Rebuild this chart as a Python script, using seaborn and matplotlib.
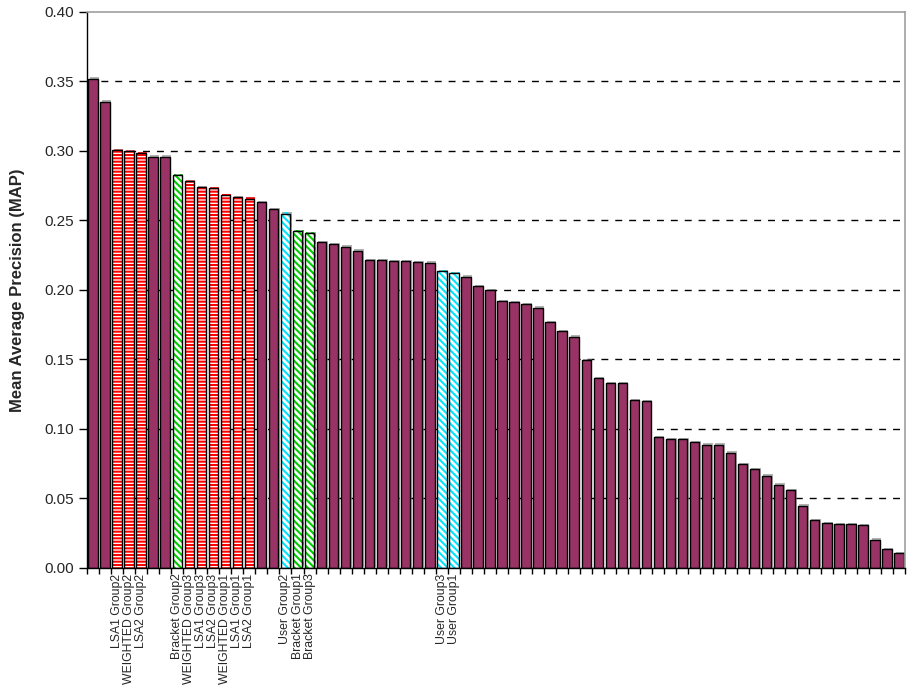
import numpy as np
import pandas as pd
import seaborn as sns
import matplotlib.pyplot as plt
import matplotlib.patheffects as pe

# MAP per run, sorted high to low
map_values = [
    0.352, 0.3355, 0.3007, 0.3000, 0.2983, 0.2959, 0.2959, 0.2825, 0.2782, 0.2739,
    0.2731, 0.2683, 0.2667, 0.2657, 0.2633, 0.2580, 0.2549, 0.2424, 0.2408, 0.2343,
    0.2329, 0.2312, 0.2283, 0.2216, 0.2216, 0.2209, 0.2209, 0.2201, 0.2197, 0.2137,
    0.2120, 0.2096, 0.2029, 0.2000, 0.1918, 0.1911, 0.1897, 0.1873, 0.1770, 0.1703,
    0.1664, 0.1494, 0.1365, 0.1329, 0.1329, 0.1209, 0.1201, 0.0940, 0.0926, 0.0926,
    0.0905, 0.0887, 0.0887, 0.0830, 0.0746, 0.0710, 0.0664, 0.0600, 0.0561, 0.0448,
    0.0345, 0.0321, 0.0314, 0.0314, 0.0307, 0.0204, 0.0137, 0.0106,
]

# only our own runs are labelled, the other runs have no label
run_labels = [''] * len(map_values)
run_labels[2] = 'LSA1 Group2'
run_labels[3] = 'WEIGHTED Group2'
run_labels[4] = 'LSA2 Group2'
run_labels[7] = 'Bracket Group2'
run_labels[8] = 'WEIGHTED Group3'
run_labels[9] = 'LSA1 Group3'
run_labels[10] = 'LSA2 Group3'
run_labels[11] = 'WEIGHTED Group1'
run_labels[12] = 'LSA1 Group1'
run_labels[13] = 'LSA2 Group1'
run_labels[16] = 'User Group2'
run_labels[17] = 'Bracket Group1'
run_labels[18] = 'Bracket Group3'
run_labels[29] = 'User Group3'
run_labels[30] = 'User Group1'


def run_kind(label):
    if label == '':
        return 'other'
    if label.startswith('Bracket'):
        return 'bracket'
    if label.startswith('User'):
        return 'user'
    return 'lsa'


df = pd.DataFrame({'run': range(len(map_values)), 'map': map_values, 'label': run_labels})
df['kind'] = df['label'].map(run_kind)

# fill colour, hatch colour and hatch pattern per kind of run
styles = {
    'other': ('#993366', None, None),
    'lsa': ('white', '#ff0000', '-----'),
    'bracket': ('white', '#00cc00', '\\\\\\\\\\'),
    'user': ('white', '#00e5ff', '\\\\\\\\\\'),
}

sns.set_theme(style='white')
plt.rcParams['font.family'] = ['Liberation Sans', 'DejaVu Sans']
plt.rcParams['hatch.linewidth'] = 1.5

fig = plt.figure(figsize=(9.07, 6.92), dpi=100)
ax = fig.add_axes([0.0959, 0.1792, 0.9019, 0.8035])

palette = {r: styles[k][0] for r, k in zip(df['run'], df['kind'])}
sns.barplot(data=df, x='run', y='map', hue='run', palette=palette, legend=False,
            width=0.78, saturation=1, linewidth=0, ax=ax)

shadow = [pe.SimplePatchShadow(offset=(1, 1), shadow_rgbFace='#808080', alpha=0.6), pe.Normal()]
for patch, kind in zip(ax.patches, df['kind']):
    face, hcol, hatch = styles[kind]
    patch.set_path_effects(shadow)
    if hatch:
        patch.set_facecolor('white')
        patch.set_edgecolor(hcol)
        patch.set_hatch(hatch)

# black outline on top of every bar
sns.barplot(data=df, x='run', y='map', fill=False, color='black', linewidth=1,
            width=0.78, ax=ax)

ax.set_ylim(0, 0.40)
ax.set_yticks(np.arange(0, 0.401, 0.05))
ax.set_yticklabels([f'{v:.2f}' for v in np.arange(0, 0.401, 0.05)], fontsize=11)
ax.yaxis.grid(True, color='black', linestyle=(0, (5, 5)), linewidth=1)
ax.get_ygridlines()[-1].set_visible(False)
ax.set_axisbelow(True)

ax.set_xticks(df['run'])
ax.set_xticklabels(df['label'], rotation=90, fontsize=8.8)
ax.set_xticks(np.arange(len(df) + 1) - 0.5, minor=True)
ax.set_xlim(-0.5, len(df) - 0.5)
ax.tick_params(axis='x', which='major', length=0, pad=4)
ax.tick_params(axis='x', which='minor', length=4, width=1, color='black', direction='out', bottom=True)
ax.tick_params(axis='y', length=6, width=1, color='black', direction='out', left=True, pad=3)

ax.set_xlabel('')
ax.set_ylabel('Mean Average Precision (MAP)', fontsize=12, fontweight='bold', labelpad=14)

for side in ['left', 'bottom']:
    ax.spines[side].set_color('black')
    ax.spines[side].set_linewidth(1)
for side in ['top', 'right']:
    ax.spines[side].set_color('#a0a0a0')
    ax.spines[side].set_linewidth(1.2)

fig.savefig('out.png', dpi=100)
